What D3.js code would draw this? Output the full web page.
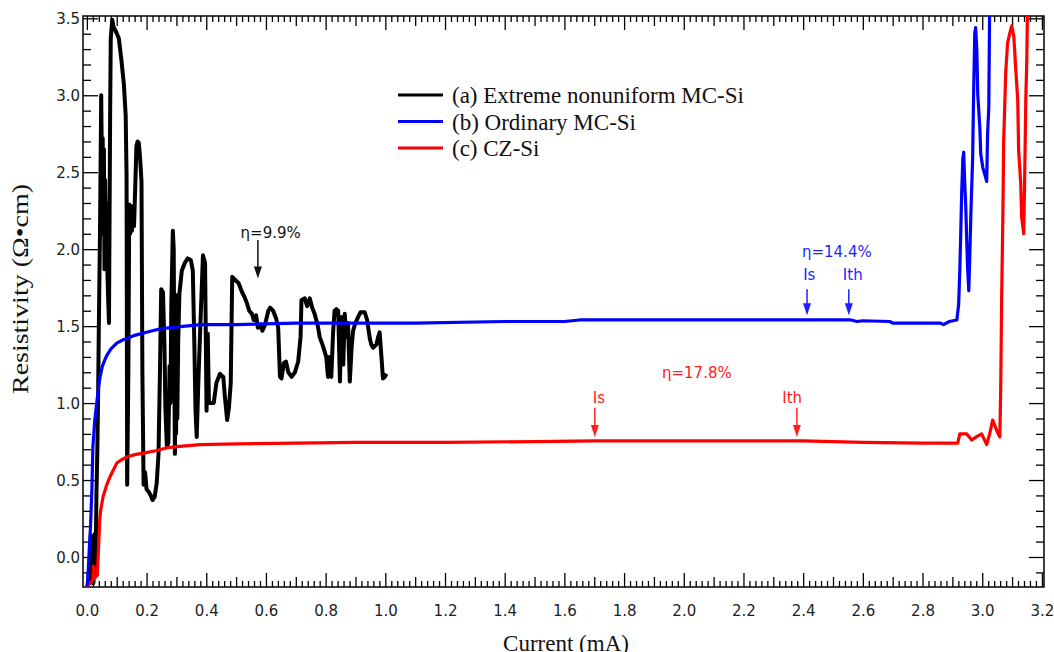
<!DOCTYPE html>
<html>
<head>
<meta charset="utf-8">
<script src="https://cdn.jsdelivr.net/npm/d3@7"></script>
<style>
  body { margin: 0; background: #fff; }
  svg { display: block; }
  .tick-label { font-family: "DejaVu Sans", sans-serif; font-size: 15px; fill: #1e1e1e; }
  .title { font-family: "Liberation Serif", "Times New Roman", serif; font-size: 23px; fill: #111; }
  .note { font-family: "DejaVu Sans", sans-serif; font-size: 15px; }
</style>
</head>
<body>
<div id="chart"></div>
<script>
// (a) extreme nonuniform MC-Si : [current mA, resistivity]
const blackPts = [
  [0.005,-0.18],[0.008,-0.05],[0.010,-0.17],[0.013,0.14],[0.016,-0.15],[0.019,0.12],
  [0.022,-0.17],[0.026,0.15],[0.029,-0.10],[0.032,0.40],[0.035,0.69],[0.038,1.10],
  [0.040,1.49],[0.044,2.12],[0.048,3.00],[0.051,2.40],[0.053,2.72],[0.055,2.10],
  [0.057,2.65],[0.059,1.87],[0.061,2.45],[0.064,2.00],[0.066,2.30],[0.068,1.90],
  [0.071,1.70],[0.074,1.52],[0.076,2.20],[0.078,2.90],[0.080,3.37],[0.085,3.49],
  [0.090,3.44],[0.096,3.42],[0.107,3.37],[0.115,3.24],[0.124,3.07],[0.130,2.87],
  [0.133,2.47],[0.135,0.47],[0.139,1.20],[0.142,2.29],[0.145,2.10],[0.148,2.28],
  [0.151,2.12],[0.154,2.26],[0.158,2.15],[0.162,2.40],[0.166,2.67],[0.170,2.70],
  [0.174,2.69],[0.178,2.60],[0.183,2.44],[0.186,1.20],[0.190,0.47],[0.195,0.55],
  [0.200,0.44],[0.208,0.42],[0.214,0.40],[0.220,0.37],[0.227,0.39],[0.234,0.48],
  [0.240,0.67],[0.245,1.22],[0.249,1.74],[0.255,1.72],[0.260,1.37],[0.263,0.97],
  [0.268,0.72],[0.273,0.74],[0.277,1.24],[0.280,1.00],[0.283,1.65],[0.288,2.12],
  [0.291,2.00],[0.293,1.20],[0.295,0.67],[0.297,1.50],[0.299,0.80],[0.301,1.70],
  [0.303,0.90],[0.306,1.40],[0.310,1.71],[0.318,1.86],[0.328,1.91],[0.338,1.94],
  [0.348,1.93],[0.355,1.86],[0.360,1.39],[0.364,0.95],[0.368,0.78],[0.374,1.17],
  [0.382,1.60],[0.389,1.96],[0.396,1.91],[0.401,0.95],[0.405,1.45],[0.409,1.00],
  [0.414,1.00],[0.425,1.00],[0.434,1.13],[0.446,1.19],[0.457,1.17],[0.462,1.05],
  [0.470,0.89],[0.476,0.97],[0.482,1.13],[0.487,1.82],[0.497,1.80],[0.508,1.78],
  [0.520,1.72],[0.528,1.69],[0.536,1.65],[0.544,1.60],[0.553,1.58],[0.559,1.54],
  [0.567,1.57],[0.573,1.49],[0.581,1.51],[0.588,1.47],[0.597,1.51],[0.608,1.60],
  [0.614,1.62],[0.624,1.60],[0.634,1.55],[0.641,1.49],[0.647,1.17],[0.652,1.16],
  [0.660,1.26],[0.667,1.27],[0.675,1.20],[0.686,1.17],[0.697,1.20],[0.708,1.27],
  [0.716,1.43],[0.719,1.67],[0.730,1.68],[0.738,1.63],[0.747,1.68],[0.755,1.62],
  [0.763,1.58],[0.774,1.50],[0.780,1.43],[0.791,1.37],[0.802,1.30],[0.808,1.17],
  [0.813,1.30],[0.819,1.17],[0.825,1.46],[0.830,1.60],[0.836,1.61],[0.842,1.60],
  [0.848,1.14],[0.853,1.56],[0.859,1.25],[0.864,1.58],[0.870,1.43],[0.875,1.52],
  [0.881,1.14],[0.887,1.36],[0.892,1.47],[0.898,1.51],[0.909,1.56],[0.917,1.59],
  [0.931,1.59],[0.939,1.54],[0.948,1.42],[0.953,1.38],[0.959,1.36],[0.970,1.38],
  [0.976,1.43],[0.981,1.46],[0.987,1.30],[0.992,1.16],[0.998,1.17],[1.004,1.19]
];

// (b) ordinary MC-Si
const bluePts = [
  [0.000,-0.19],[0.003,-0.15],[0.008,0.05],[0.012,0.19],[0.017,0.45],[0.020,0.71],
  [0.026,0.88],[0.033,1.00],[0.039,1.10],[0.044,1.17],[0.052,1.24],[0.060,1.28],
  [0.067,1.31],[0.080,1.35],[0.100,1.39],[0.120,1.41],[0.134,1.42],[0.160,1.44],
  [0.200,1.46],[0.240,1.48],[0.280,1.49],[0.330,1.50],[0.380,1.51],[0.500,1.51],
  [0.700,1.52],[0.900,1.52],[1.100,1.52],[1.400,1.53],[1.600,1.53],[1.650,1.54],
  [2.000,1.54],[2.400,1.54],[2.560,1.54],[2.580,1.53],[2.600,1.535],[2.690,1.53],
  [2.700,1.52],[2.800,1.52],[2.860,1.52],[2.870,1.51],[2.890,1.53],[2.915,1.54],
  [2.921,1.64],[2.925,1.87],[2.928,2.10],[2.931,2.35],[2.935,2.59],[2.938,2.63],
  [2.941,2.45],[2.945,2.27],[2.948,2.06],[2.951,1.88],[2.955,1.73],[2.958,1.93],
  [2.962,2.23],[2.968,2.60],[2.971,2.99],[2.975,3.40],[2.978,3.44],[2.982,3.29],
  [2.985,3.01],[2.992,2.79],[2.995,2.62],[3.002,2.53],[3.008,2.49],[3.015,2.44],
  [3.018,2.75],[3.022,2.92],[3.025,3.60]
];

// (c) CZ-Si
const redPts = [
  [0.000,-0.19],[0.010,-0.17],[0.020,-0.15],[0.022,-0.06],[0.024,-0.14],[0.035,-0.12],
  [0.043,0.24],[0.046,0.30],[0.054,0.39],[0.065,0.46],[0.077,0.52],[0.090,0.57],
  [0.100,0.61],[0.115,0.63],[0.134,0.65],[0.160,0.665],[0.190,0.675],[0.230,0.69],
  [0.270,0.71],[0.320,0.72],[0.380,0.73],[0.500,0.735],[0.700,0.74],[0.900,0.745],
  [1.200,0.745],[1.500,0.75],[1.700,0.755],[2.000,0.755],[2.400,0.755],[2.600,0.745],
  [2.800,0.74],[2.918,0.74],[2.925,0.80],[2.948,0.80],[2.965,0.76],[2.980,0.78],
  [2.998,0.80],[3.015,0.73],[3.025,0.80],[3.035,0.89],[3.049,0.82],[3.059,0.78],
  [3.062,1.10],[3.065,1.67],[3.069,2.19],[3.072,2.71],[3.079,3.16],[3.085,3.34],
  [3.092,3.40],[3.099,3.45],[3.106,3.38],[3.112,3.18],[3.119,2.97],[3.122,2.64],
  [3.129,2.43],[3.132,2.21],[3.139,2.10],[3.142,2.43],[3.146,2.97],[3.149,3.20],
  [3.152,3.60]
];

const legendLabels = ["(a) Extreme nonuniform MC-Si", "(b) Ordinary MC-Si", "(c) CZ-Si"];
const seriesColors = ["#000", "#0000ff", "#ff0000"];

const xMajorTicks = d3.range(0, 17).map(i => i * 0.2);
const yMajorTicks = d3.range(0, 8).map(i => i * 0.5);

// arrows: [current, top resistivity, bottom resistivity]
const notes = [
  { text: "\u03b7=9.9%", color: "#111", tx: 0.515, ty: 2.07, arrow: [0.573, 2.06, 1.81] },
  { text: "\u03b7=14.4%", color: "#1f1fff", tx: 2.396, ty: 1.95, arrow: null },
  { text: "Is", color: "#1f1fff", tx: 2.400, ty: 1.80, arrow: [2.413, 1.74, 1.57] },
  { text: "Ith", color: "#1f1fff", tx: 2.533, ty: 1.80, arrow: [2.553, 1.74, 1.57] },
  { text: "\u03b7=17.8%", color: "#ff2020", tx: 1.927, ty: 1.16, arrow: null },
  { text: "Is", color: "#ff2020", tx: 1.695, ty: 1.00, arrow: [1.702, 0.97, 0.78] },
  { text: "Ith", color: "#ff2020", tx: 2.330, ty: 1.00, arrow: [2.379, 0.97, 0.78] }
];

const W = 1054, H = 652;
const plot = { left: 83, right: 1044, top: 16, bottom: 587 };

const svg = d3.select("#chart").append("svg").attr("width", W).attr("height", H);

const x = d3.scaleLinear().domain([-0.013, 3.207]).range([plot.left, plot.right]);
const y = d3.scaleLinear().domain([-0.195, 3.515]).range([plot.bottom, plot.top]);

svg.append("clipPath").attr("id", "clip")
  .append("rect")
  .attr("x", plot.left).attr("y", plot.top)
  .attr("width", plot.right - plot.left).attr("height", plot.bottom - plot.top);

// ticks, all pointing inward
function tickGroup(axis, transform) {
  const g = svg.append("g").attr("transform", transform).call(axis);
  g.select(".domain").remove();
  g.selectAll("line").attr("stroke", "#000").attr("stroke-width", 1.3);
  return g;
}

const xMid = d3.range(0, 16).map(i => i * 0.2 + 0.1);
const xMinor = d3.range(0, 161).filter(i => i % 5 !== 0).map(i => i * 0.02);
const yMinor = d3.range(-1, 36).filter(i => i % 5 !== 0).map(i => i * 0.1);

[["bottom", plot.bottom], ["top", plot.top]].forEach(([side, pos]) => {
  const mk = side === "bottom" ? d3.axisBottom : d3.axisTop;
  tickGroup(mk(x).tickValues(xMinor).tickSize(-6).tickFormat(""), `translate(0,${pos})`);
  tickGroup(mk(x).tickValues(xMid).tickSize(-10).tickFormat(""), `translate(0,${pos})`);
  const g = tickGroup(mk(x).tickValues(xMajorTicks).tickSize(-14)
    .tickFormat(side === "bottom" ? d3.format(".1f") : ""), `translate(0,${pos})`);
  g.selectAll("text").attr("class", "tick-label").attr("dy", null).attr("y", 29);
});

[["left", plot.left], ["right", plot.right]].forEach(([side, pos]) => {
  const mk = side === "left" ? d3.axisLeft : d3.axisRight;
  tickGroup(mk(y).tickValues(yMinor).tickSize(-8).tickFormat(""), `translate(${pos},0)`);
  const g = tickGroup(mk(y).tickValues(yMajorTicks).tickSize(-15)
    .tickFormat(side === "left" ? d3.format(".1f") : ""), `translate(${pos},0)`);
  g.selectAll("text").attr("class", "tick-label").attr("x", -3).attr("dy", "0.36em");
});

svg.append("rect")
  .attr("x", plot.left).attr("y", plot.top)
  .attr("width", plot.right - plot.left).attr("height", plot.bottom - plot.top)
  .attr("fill", "none").attr("stroke", "#000").attr("stroke-width", 1.5);

// curves
const line = d3.line().x(d => x(d[0])).y(d => y(d[1]));
const curves = svg.append("g").attr("clip-path", "url(#clip)");
[[blackPts, 0, 4], [redPts, 2, 3.2], [bluePts, 1, 3.2]].forEach(([pts, i, w]) => {
  curves.append("path")
    .datum(pts)
    .attr("d", line)
    .attr("fill", "none")
    .attr("stroke", seriesColors[i])
    .attr("stroke-width", w)
    .attr("stroke-linejoin", "round");
});

// annotations
notes.forEach(n => {
  svg.append("text").attr("class", "note")
    .attr("x", x(n.tx)).attr("y", y(n.ty))
    .attr("fill", n.color)
    .text(n.text);
  if (n.arrow) {
    const [ax, a0, a1] = n.arrow;
    const px = x(ax), top = y(a0), bot = y(a1);
    svg.append("line")
      .attr("x1", px).attr("x2", px).attr("y1", top).attr("y2", bot - 8)
      .attr("stroke", n.color).attr("stroke-width", 1.5);
    svg.append("path")
      .attr("d", `M${px - 4},${bot - 12}L${px + 4},${bot - 12}L${px},${bot}Z`)
      .attr("fill", n.color);
  }
});

// legend
const legend = svg.append("g");
legendLabels.forEach((label, i) => {
  const ly = 95 + i * 26.5;
  legend.append("line")
    .attr("x1", 398).attr("x2", 443).attr("y1", ly).attr("y2", ly)
    .attr("stroke", seriesColors[i]).attr("stroke-width", 3);
  legend.append("text").attr("class", "title")
    .attr("x", 452).attr("y", ly + 8)
    .text(label);
});

// axis titles
svg.append("text").attr("class", "title")
  .attr("text-anchor", "middle")
  .attr("x", 566).attr("y", 651)
  .text("Current (mA)");

svg.append("text").attr("class", "title")
  .attr("text-anchor", "middle")
  .attr("transform", "translate(28,289) rotate(-90)")
  .attr("textLength", 210)
  .attr("lengthAdjust", "spacingAndGlyphs")
  .style("font-size", "24px")
  .text("Resistivity (\u03a9\u2022cm)");
</script>
</body>
</html>
